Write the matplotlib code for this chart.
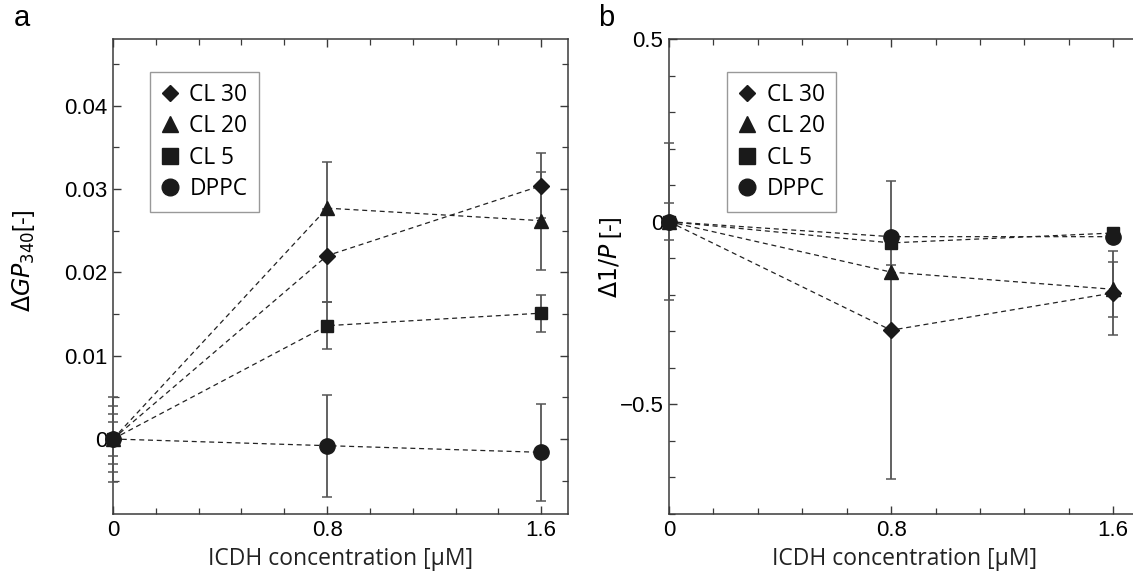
import matplotlib
matplotlib.use('Agg')
import matplotlib.pyplot as plt
from matplotlib.lines import Line2D
from matplotlib.ticker import FixedLocator, MultipleLocator

plt.rcParams['font.family'] = ['Liberation Sans', 'DejaVu Sans']
plt.rcParams['mathtext.fontset'] = 'custom'
plt.rcParams['mathtext.rm'] = 'Liberation Sans Narrow'
plt.rcParams['mathtext.it'] = 'Liberation Sans Narrow:italic'
plt.rcParams['axes.unicode_minus'] = True

# data
conc = [0, 0.8, 1.6]
series = ['DPPC', 'CL 30', 'CL 20', 'CL 5']
legend_order = ['CL 30', 'CL 20', 'CL 5', 'DPPC']
markers = {'CL 30': 'D', 'CL 20': '^', 'CL 5': 's', 'DPPC': 'o'}
msizes = {'CL 30': 8.5, 'CL 20': 10.5, 'CL 5': 9, 'DPPC': 11}
leg_msizes = {'CL 30': 8.5, 'CL 20': 12, 'CL 5': 11, 'DPPC': 12}

# panel a: delta GP340
gp = {
    'CL 30': [0, 0.0220, 0.0304],
    'CL 20': [0, 0.0277, 0.0262],
    'CL 5': [0, 0.0136, 0.0151],
    'DPPC': [0, -0.0008, -0.0016],
}
gp_err = {
    'CL 30': [0.0040, 0.0056, 0.0039],
    'CL 20': [0.0030, 0.0056, 0.0059],
    'CL 5': [0.0020, 0.0028, 0.0022],
    'DPPC': [0.0051, 0.0061, 0.0058],
}

# panel b: delta 1/P
inv_p = {
    'CL 30': [0, -0.297, -0.195],
    'CL 20': [0, -0.138, -0.185],
    'CL 5': [0, -0.058, -0.031],
    'DPPC': [0, -0.041, -0.041],
}
inv_p_err = {
    'CL 30': [0.215, 0.408, 0.115],
    'CL 20': [0.05, 0.02, 0.075],
    'CL 5': [0.0, 0.0, 0.0],
    'DPPC': [0.0, 0.0, 0.0],
}

fig = plt.figure(figsize=(11.33, 5.75), dpi=100)
W, H = 1133, 575
ax_a = fig.add_axes([113 / W, 1 - 514 / H, 455 / W, 475 / H])
ax_b = fig.add_axes([669 / W, 1 - 514 / H, 472 / W, 475 / H])

spine_col = '#3a3a3a'
err_col = '#555555'


def draw(ax, vals, errs):
    for name in series:
        ax.errorbar(conc, vals[name], yerr=errs[name], fmt='none', ecolor=err_col,
                    elinewidth=1.3, capsize=3.5, capthick=1.1, clip_on=False, zorder=3)
        ax.plot(conc, vals[name], color='#222222', lw=0.9, ls=(0, (4, 3)),
                clip_on=False, zorder=3)
        ax.plot(conc, vals[name], ls='none', marker=markers[name], ms=msizes[name],
                color='#1a1a1a', clip_on=False, zorder=4)
    ax.set_xlim(0, 1.7)
    ax.xaxis.set_major_locator(FixedLocator([0, 0.8, 1.6]))
    ax.xaxis.set_minor_locator(MultipleLocator(0.16))
    ax.set_xticklabels(['0', '0.8', '1.6'])
    ax.tick_params(which='both', direction='in', top=True, right=True,
                   color=spine_col, labelsize=16, pad=4)
    ax.tick_params(which='major', length=5.5, width=1)
    ax.tick_params(which='minor', length=4, width=0.9)
    for s in ax.spines.values():
        s.set_color(spine_col)
        s.set_linewidth(1.1)
    ax.text(0.5, -0.095, 'ICDH concentration [μM]', transform=ax.transAxes,
            ha='center', va='center', fontsize=16.5, family='Open Sans', color='#222222')
    handles = [Line2D([], [], ls='none', marker=markers[n], ms=leg_msizes[n],
                      color='#1a1a1a', label=n) for n in legend_order]
    return handles


def add_legend(ax, handles, x0):
    leg = ax.legend(handles=handles, loc='upper left', bbox_to_anchor=(x0, 0.931),
                    borderaxespad=0, fancybox=False, framealpha=1, edgecolor='#999999',
                    prop={'family': 'Open Sans', 'size': 16.4}, handlelength=0.8,
                    handletextpad=0.45, labelspacing=0.32, borderpad=0.49)
    leg.get_frame().set_linewidth(1.0)


h = draw(ax_a, gp, gp_err)
ax_a.set_ylim(-0.009, 0.048)
ax_a.yaxis.set_major_locator(FixedLocator([0, 0.01, 0.02, 0.03, 0.04]))
ax_a.yaxis.set_minor_locator(MultipleLocator(0.005))
ax_a.set_yticklabels(['0', '0.01', '0.02', '0.03', '0.04'])
ax_a.set_ylabel(r'$\mathit{ΔGP}_{\mathrm{340}}$[-]', fontsize=17,
                family=['Liberation Sans Narrow', 'Liberation Sans'])
ax_a.yaxis.set_label_coords(-0.167, 0.533)
add_legend(ax_a, h, 0.081)

h = draw(ax_b, inv_p, inv_p_err)
ax_b.set_ylim(-0.8, 0.5)
ax_b.yaxis.set_major_locator(FixedLocator([-0.5, 0, 0.5]))
ax_b.yaxis.set_minor_locator(MultipleLocator(0.1))
ax_b.set_yticklabels(['\u22120.5', '0', '0.5'])
ax_b.set_ylabel(r'$\mathit{Δ1/P}$ [-]', fontsize=17,
                family=['Liberation Sans Narrow', 'Liberation Sans'])
ax_b.yaxis.set_label_coords(-0.095, 0.541)
add_legend(ax_b, h, 0.123)

fig.text(22 / W, 1 - 18 / H, 'a', fontsize=21, ha='center', va='center')
fig.text(606 / W, 1 - 18 / H, 'b', fontsize=21, ha='center', va='center')

fig.savefig('out.png', dpi=100)
